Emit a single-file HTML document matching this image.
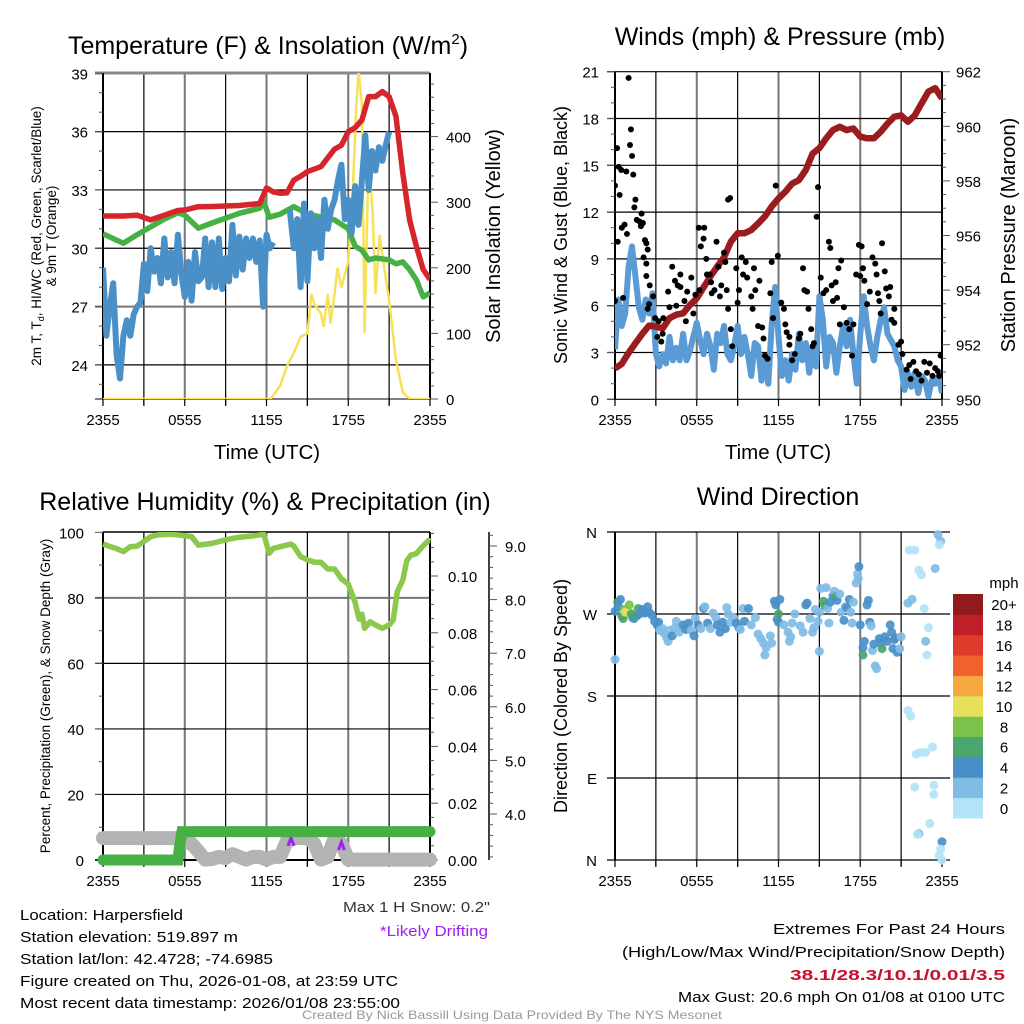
<!DOCTYPE html>
<html><head><meta charset="utf-8"><style>
html,body{margin:0;padding:0;background:#fff;}
svg{display:block;font-family:"Liberation Sans",Arial,sans-serif;}
</style></head><body>
<svg id="fig" width="1024" height="1024" viewBox="0 0 1024 1024" xmlns="http://www.w3.org/2000/svg">
<defs>
<clipPath id="c1"><rect x="103" y="73" width="327" height="326"/></clipPath>
<clipPath id="c2"><rect x="615" y="71" width="327" height="329"/></clipPath>
<clipPath id="c3"><rect x="90" y="532" width="355" height="342"/></clipPath>
<clipPath id="c4"><rect x="605" y="526" width="345" height="342"/></clipPath>
</defs>
<g id="p1"></g>
<g id="p2"></g>
<g id="p3"></g>
<g id="p4"></g>

<text x="268" y="54" font-size="25" text-anchor="middle">Temperature (F) &amp; Insolation (W/m<tspan font-size="15" dy="-10">2</tspan><tspan dy="10">)</tspan></text>
<text x="780" y="45" font-size="25" text-anchor="middle">Winds (mph) &amp; Pressure (mb)</text>
<text x="265" y="510" font-size="25" text-anchor="middle">Relative Humidity (%) &amp; Precipitation (in)</text>
<text x="778" y="505" font-size="25" text-anchor="middle">Wind Direction</text>

<text x="267" y="459" font-size="20.5" text-anchor="middle">Time (UTC)</text>
<text x="778" y="459" font-size="20.5" text-anchor="middle">Time (UTC)</text>
<text transform="translate(41,236) rotate(-90)" font-size="13.5" text-anchor="middle">2m T, T<tspan font-size="9" dy="3">d</tspan><tspan dy="-3">, HI/WC (Red, Green, Scarlet/Blue)</tspan></text>
<text transform="translate(56,236) rotate(-90)" font-size="13.5" text-anchor="middle">&amp; 9m T (Orange)</text>
<text transform="translate(500,236) rotate(-90)" font-size="20" text-anchor="middle">Solar Insolation (Yellow)</text>
<text transform="translate(567,235) rotate(-90)" font-size="18" text-anchor="middle">Sonic Wind &amp; Gust (Blue, Black)</text>
<text transform="translate(1015,235) rotate(-90)" font-size="20" text-anchor="middle">Station Pressure (Maroon)</text>
<text transform="translate(50,696) rotate(-90)" font-size="13.5" text-anchor="middle">Percent, Precipitation (Green), &amp; Snow Depth (Gray)</text>
<text transform="translate(567,696) rotate(-90)" font-size="18" text-anchor="middle">Direction (Colored By Speed)</text>

<g font-size="15">
<text x="20" y="920" textLength="163" lengthAdjust="spacingAndGlyphs">Location: Harpersfield</text>
<text x="20" y="942" textLength="218" lengthAdjust="spacingAndGlyphs">Station elevation: 519.897 m</text>
<text x="20" y="964" textLength="253" lengthAdjust="spacingAndGlyphs">Station lat/lon: 42.4728; -74.6985</text>
<text x="20" y="986" textLength="378" lengthAdjust="spacingAndGlyphs">Figure created on Thu, 2026-01-08, at 23:59 UTC</text>
<text x="20" y="1008" textLength="380" lengthAdjust="spacingAndGlyphs">Most recent data timestamp: 2026/01/08 23:55:00</text>
</g>
<text x="343" y="912" font-size="15" fill="#333" textLength="147" lengthAdjust="spacingAndGlyphs">Max 1 H Snow: 0.2"</text>
<text x="380" y="936" font-size="15" fill="#a020f0" textLength="108" lengthAdjust="spacingAndGlyphs">*Likely Drifting</text>
<text x="773" y="934" font-size="15" textLength="232" lengthAdjust="spacingAndGlyphs">Extremes For Past 24 Hours</text>
<text x="622" y="957" font-size="15" textLength="383" lengthAdjust="spacingAndGlyphs">(High/Low/Max Wind/Precipitation/Snow Depth)</text>
<text x="790" y="980" font-size="15" font-weight="bold" fill="#c8102e" textLength="215" lengthAdjust="spacingAndGlyphs">38.1/28.3/10.1/0.01/3.5</text>
<text x="678" y="1002" font-size="15" textLength="327" lengthAdjust="spacingAndGlyphs">Max Gust: 20.6 mph On 01/08 at 0100 UTC</text>
<text x="302" y="1019" font-size="12" fill="#999" textLength="420" lengthAdjust="spacingAndGlyphs">Created By Nick Bassill Using Data Provided By The NYS Mesonet</text>
</svg>
<script>
// ---------- DATA ----------
const xTickLabels = ["2355","0555","1155","1755","2355"];
const tempRed = [[0,31.66],[1.5,31.66],[2.5,31.7],[3.5,31.46],[4.5,31.7],[5.5,31.94],[6,31.97],[7,32.14],[8,32.15],[10,32.2],[11.5,32.3],[12,33.1],[12.5,32.9],[13,32.83],[13.5,32.85],[14,33.5],[14.5,33.7],[15,33.94],[16,34.2],[17,35.1],[17.5,35.3],[18,36],[18.5,36.2],[19,36.6],[19.5,37.8],[20,37.8],[20.5,38.06],[21,37.8],[21.5,36.8],[22,33.86],[22.5,31.46],[23,30.1],[23.5,28.9],[24,28.4]];
const tempGreen = [[0,30.74],[1.5,30.26],[2.5,30.7],[3.5,31.1],[4.5,31.5],[5.5,31.83],[6,31.7],[7,31.03],[8,31.3],[10,31.8],[11.5,32.06],[11.8,32.4],[12.2,31.6],[13,31.75],[14,32.14],[15,31.77],[16,31.6],[17,31.46],[18,31.0],[18.5,30.1],[19,29.9],[19.5,29.4],[20,29.5],[21,29.4],[21.5,29.2],[22,29.3],[22.5,28.9],[23,28.37],[23.5,27.5],[24,27.7]];
const tempBlue = [[0,29],[0.25,25.5],[0.5,27],[0.75,28.2],[1,24.5],[1.25,23.3],[1.5,25.5],[1.75,26.3],[2,25.5],[2.25,26.6],[2.5,27],[2.75,27.2],[3,29.2],[3.25,27.8],[3.5,30],[3.75,28.8],[4,29.5],[4.25,28.2],[4.5,30.5],[4.75,28.5],[5,29.8],[5.25,28.2],[5.5,30.7],[5.75,28.7],[6,27.5],[6.25,29.3],[6.5,27.3],[6.75,29.8],[7,28.3],[7.25,28.5],[7.5,30.5],[7.75,28],[8,30.3],[8.25,28],[8.5,30.5],[8.75,27.9],[9,29.5],[9.25,28.3],[9.5,31.2],[9.75,28.6],[10,30.6],[10.25,28.9],[10.5,30.5],[10.75,29.5],[11,30.5],[11.25,29.3],[11.5,30.4],[11.75,27],[12,30.7],[12.25,30],[12.5,30.3],null,[13.7,32],[14,30],[14.25,31.5],[14.5,28],[14.75,32.3],[15,28.3],[15.25,31.8],[15.5,30],[15.75,31.5],[16,29.5],[16.25,32.5],[16.5,31],[16.75,32],[17,32.5],[17.25,33.5],[17.5,34.3],[17.75,31.5],[18,32.5],[18.25,30.8],[18.5,33.2],[18.75,31.2],[19,33.5],[19.25,35.8],[19.5,33],[19.75,35],[20,34],[20.25,35.2],[20.5,34.5],[20.75,35.3],[21,36]];
const solar = [[0,0],[12.3,0],[13,20],[13.5,50],[14,70],[14.5,95],[15,100],[15.3,160],[15.5,145],[16,130],[16.2,110],[16.5,160],[16.7,115],[17,160],[17.2,200],[17.5,170],[18,210],[18.3,300],[18.6,450],[18.75,500],[19,450],[19.2,100],[19.3,200],[19.5,370],[19.8,280],[20,160],[20.3,250],[20.5,220],[21,150],[21.5,60],[22,10],[22.5,0],[24,0]];
const tempTicks = [24,27,30,33,36,39];
const solarTicks = [0,100,200,300,400];
const pressure = [[0,951.13],[0.5,951.3],[1,951.7],[1.5,952.05],[2,952.4],[2.5,952.7],[3,952.66],[3.5,952.6],[4,952.97],[4.5,953.1],[5,953.15],[5.5,953.45],[6,953.7],[6.5,954.1],[7,954.5],[7.5,954.86],[8,955.2],[8.5,955.77],[9,956.08],[9.5,956.08],[10,956.2],[10.5,956.44],[11,956.7],[11.5,957.06],[12,957.36],[12.5,957.6],[13,957.9],[13.5,958.03],[14,958.4],[14.5,959.0],[15,959.2],[15.5,959.56],[16,959.86],[16.5,959.98],[17,959.86],[17.5,959.92],[18,959.62],[18.5,959.56],[19,959.56],[19.5,959.8],[20,960.1],[20.5,960.35],[21,960.4],[21.5,960.17],[22,960.4],[22.5,960.84],[23,961.27],[23.5,961.4],[24,961.02]];
const windSpeed = [3.2,6.4,4.7,5.5,8.5,9.8,7.9,5.9,5.1,6.4,5.5,6.8,2.9,2.1,2.9,2.3,4.0,2.5,3.3,2.5,4.2,2.5,3.1,4.0,4.9,3.8,2.9,4.2,3.4,1.9,4.2,3.6,4.7,2.9,2.5,3.4,4.7,2.9,4.0,2.9,1.5,3.6,3.4,1.2,2.5,1.0,4.8,7.2,4.0,1.5,2.5,1.2,2.9,1.9,4.2,2.5,3.6,1.7,3.4,2.1,6.6,5.1,2.1,4.0,3.6,1.7,3.4,4.7,3.4,5.1,2.9,1.0,4.2,6.6,4.7,3.4,2.5,4.0,5.1,5.9,4.2,3.8,3.4,2.5,2.1,0.6,1.7,0.8,1.7,0.4,1.5,1.2,0.2,1.2,1.0,1.5,0.4];
const gusts = [[0,13.7],[0.15,16.1],[0,6.3],[0.27,14.9],[0.46,14.7],[0.34,13.1],[0.2,10.1],[1.0,20.6],[0.83,14.6],[0.88,10.6],[0.5,11],[0.7,11.2],[0.6,6.5],[1.17,17.3],[1.1,16.3],[1.25,15.6],[1.34,14.4],[1.5,12.8],[1.42,12.3],[1.6,11.5],[1.8,11.4],[1.95,11.9],[1.9,11.1],[2.05,11.3],[2.2,10.2],[2.3,10.0],[2.1,9.1],[2.4,9.6],[2.3,8.7],[2.3,7.9],[2.55,7.3],[2.5,6.1],[2.4,5.8],[2.8,6.6],[2.95,5.2],[3.2,5.0],[3.1,4.0],[3.4,3.7],[3.55,5.2],[3.5,4.2],[3.9,6.9],[4.2,8.5],[4.0,5.9],[4.4,7.6],[4.6,7.3],[4.8,7.2],[4.5,6.0],[4.8,8.0],[5.1,6.3],[5.2,5.0],[5.3,6.9],[5.6,7.8],[5.75,5.5],[5.9,6.7],[6.2,7.0],[6.15,11.0],[6.3,9.8],[6.55,11.0],[6.5,10.3],[6.7,9.0],[6.75,8.0],[6.95,8.0],[7.05,7.5],[7.1,6.8],[7.3,7.0],[7.45,10.1],[7.6,8.5],[7.8,7.3],[7.7,6.6],[8.0,9.4],[8.1,8.8],[8.2,7.0],[8.3,12.8],[8.45,12.9],[8.5,4.5],[8.3,5.8],[8.6,3.4],[8.9,8.4],[9.1,7.0],[9.0,6.2],[9.3,9.1],[9.4,8.0],[9.6,8.8],[9.7,7.8],[10.0,6.6],[10.1,5.8],[10.2,8.4],[10.3,7.0],[10.5,4.7],[10.6,7.6],[10.8,4.6],[10.9,3.9],[11.0,2.8],[11.2,2.6],[11.4,6.8],[11.5,8.8],[11.6,5.2],[11.8,13.7],[11.95,9.2],[12.2,6.2],[12.4,5.8],[12.5,4.8],[12.6,4.3],[12.8,4.0],[12.8,3.5],[13.0,2.5],[13.2,2.9],[13.5,3.9],[13.6,4.2],[13.8,8.4],[13.9,7.0],[14.1,6.9],[14.2,5.8],[14.4,4.5],[14.6,3.6],[14.5,3.4],[14.8,11.7],[14.9,13.6],[15.1,7.8],[15.3,6.8],[15.5,7.0],[15.7,10.1],[15.8,9.7],[15.9,7.3],[16.0,6.3],[16.2,7.5],[16.3,6.5],[16.4,8.4],[16.6,8.9],[16.8,5.9],[16.5,4.8],[17.0,4.9],[17.2,4.5],[17.4,2.8],[17.5,4.8],[17.7,8.0],[17.9,9.9],[18.1,9.8],[18.0,7.9],[18.2,8.4],[18.3,7.6],[18.5,6.1],[18.7,6.9],[18.9,9.1],[19.1,8.7],[19.2,8.0],[19.3,6.8],[19.4,6.3],[19.5,5.5],[19.6,10.0],[19.8,8.2],[19.9,7.1],[20.1,6.6],[20.2,7.2],[20.3,5.1],[20.5,5.8],[20.5,4.9],[20.8,3.5],[21.0,3.7],[21.1,2.9],[21.4,1.9],[21.6,2.2],[21.7,1.3],[21.9,2.4],[22.1,1.8],[22.3,1.6],[22.5,1.2],[22.7,2.4],[22.9,1.7],[23.1,2.3],[23.3,1.5],[23.5,2.0],[23.7,1.8],[23.9,2.8],[23.8,1.5]];
const windTicks = [0,3,6,9,12,15,18,21];
const pressureTicks = [950,952,954,956,958,960,962];
const rh = [[0,96.4],[1,95],[1.5,94.1],[2,95.6],[2.5,95.8],[3,97.2],[3.5,98.7],[4,99.2],[5,99.4],[6,99],[6.5,98.7],[7,96.1],[8,96.6],[9,97.7],[10,98.5],[11,98.9],[11.8,99.4],[12.2,93.6],[12.5,95.1],[13,95.6],[13.8,96.4],[14,95.8],[14.5,92.6],[15,91.6],[15.5,90.9],[16,90.8],[16.5,88.8],[17,88.8],[17.5,85.8],[18,84.2],[18.5,78.6],[18.8,73.5],[19,75],[19.2,70.7],[19.6,72.7],[20,71.7],[20.5,70.7],[21,71.7],[21.3,73.2],[21.6,81.9],[22,85.4],[22.3,91.4],[22.6,93],[23,93.5],[23.5,95.9],[23.9,97.5],[24,97.2]];
const precip = [[0,0],[5.5,0],[5.6,0.004],[5.8,0.01],[24,0.01]];
const snow = [[0,3.55],[5.5,3.55],[6,3.47],[6.5,3.45],[7,3.3],[7.5,3.15],[8,3.16],[8.5,3.2],[9,3.18],[9.5,3.25],[10,3.2],[10.5,3.15],[11,3.2],[11.5,3.2],[12,3.15],[12.5,3.2],[13,3.2],[13.5,3.5],[14,3.55],[15,3.55],[15.5,3.45],[16,3.15],[16.5,3.2],[17,3.55],[17.5,3.45],[18,3.15],[24,3.15]];
const drift = [[13.8,3.5],[17.5,3.42]];
const rhTicks = [0,20,40,60,80,100];
const precipTicks = [0,0.02,0.04,0.06,0.08,0.10];
const precipLabels = ["0.00","0.02","0.04","0.06","0.08","0.10"];
const snowTicks = [4,5,6,7,8,9];
const dirPts = [[0,273,5],[0,220,3],[0.2,283,7],[0.25,278,5],[0.4,286,4],[0.5,268,6],[0.6,265,7],[0.7,275,9],[0.75,272,10],[1.0,273,11],[1.05,280,9],[1.2,270,6],[1.3,266,7],[1.4,265,4],[1.6,268,6],[1.7,276,7],[1.8,270,4],[2.0,275,5],[2.2,271,4],[2.4,278,4],[2.5,272,4],[2.7,269,4],[2.9,262,4],[3.1,258,4],[3.2,261,4],[3.3,252,3],[3.5,254,3],[3.6,249,3],[3.8,244,3],[3.9,240,3],[4.0,252,3],[4.2,246,4],[4.4,255,3],[4.5,262,3],[4.7,250,3],[4.8,256,3],[5.0,258,4],[5.2,253,4],[5.4,260,4],[5.6,252,3],[5.8,246,4],[5.9,265,3],[6.1,258,4],[6.3,254,3],[6.5,276,4],[6.6,278,3],[6.8,260,4],[7.0,254,3],[7.2,271,3],[7.4,266,3],[7.5,258,4],[7.7,250,4],[7.9,261,4],[8.1,254,4],[8.2,277,3],[8.3,270,3],[8.5,261,3],[8.7,266,3],[8.9,260,4],[9.1,255,4],[9.2,253,3],[9.4,276,3],[9.5,262,4],[9.8,276,4],[10.0,258,3],[10.3,266,3],[10.5,248,3],[10.7,243,3],[10.9,238,3],[11.0,225,3],[11.1,233,3],[11.4,246,2],[11.5,238,3],[11.7,284,4],[11.8,280,4],[11.9,264,5],[12.0,261,4],[12.0,270,6],[12.1,286,4],[12.4,258,3],[12.7,250,3],[12.8,240,3],[12.9,245,3],[13.0,260,3],[13.2,270,3],[13.6,257,3],[13.8,250,3],[14.0,280,4],[14.1,282,4],[14.3,265,3],[14.5,250,3],[14.6,255,3],[14.7,275,3],[14.9,262,3],[15.0,272,3],[15.0,229,3],[15.1,298,3],[15.3,284,6],[15.4,279,6],[15.5,299,3],[15.6,276,2],[15.7,260,3],[15.8,283,4],[16.0,290,4],[16.1,295,3],[16.2,289,6],[16.3,285,4],[16.5,292,3],[16.6,272,3],[16.8,263,4],[16.9,278,3],[17.0,277,4],[17.2,286,4],[17.3,272,3],[17.4,260,3],[17.5,283,3],[17.7,304,3],[17.8,314,3],[17.9,322,4],[17.85,309,3],[18.0,258,4],[18.2,233,4],[18.2,225,6],[18.3,240,4],[18.5,280,4],[18.6,285,4],[18.7,261,4],[18.8,257,3],[18.9,230,3],[19.0,237,4],[19.1,213,3],[19.2,210,3],[19.4,243,4],[19.5,238,4],[19.6,232,6],[19.8,245,4],[20.0,240,4],[20.2,258,4],[20.3,250,4],[20.4,232,4],[20.5,242,4],[20.6,244,4],[20.7,228,4],[20.9,232,3],[21.0,245,3],[21.5,164,1],[21.7,158,1],[21.5,282,3],[21.8,286,3],[21.6,340,1],[22.0,340,1],[22.3,318,1],[22.5,313,1],[22.7,276,1],[22.8,240,3],[23.0,255,1],[22.9,225,1],[22.8,118,1],[23.3,124,1],[22.1,116,1],[22.4,118,1],[22.0,80,1],[23.4,72,1],[23.4,82,1],[23.1,40,1],[22.3,29,3],[22.2,28,1],[23.5,320,3],[23.7,357,3],[23.9,350,2],[23.8,346,1],[24.0,20,4],[23.9,12,1],[23.8,5,1],[24.0,0,1]];
const dirLabels = ["N","E","S","W","N"];
const dirTicks = [0,90,180,270,360];
const cbarLabels = ["0","2","4","6","8","10","12","14","16","18","20+"];
const cbarColors = ["#b3e3f7","#80bce6","#4a90c8","#4aa56e","#7bc24b","#e6e05a","#f5a742","#ef622e","#df3a2b","#c01f28","#911a1c"];

// ---------- HELPERS ----------
const NS="http://www.w3.org/2000/svg";
function mk(parent,tag,attrs){const e=document.createElementNS(NS,tag);for(const k in attrs)e.setAttribute(k,attrs[k]);parent.appendChild(e);return e;}
function line(p,x1,y1,x2,y2,stroke,w){return mk(p,"line",{x1,y1,x2,y2,stroke,"stroke-width":w});}
function txt(p,x,y,s,size,anchor){const t=mk(p,"text",{x,y,"font-size":size,"text-anchor":anchor||"middle"});t.textContent=s;return t;}
function pathFrom(pts,fx,fy){let d="",m=true;for(const p of pts){if(!p){m=true;continue;}d+=(m?"M":"L")+fx(p[0]).toFixed(1)+","+fy(p[1]).toFixed(1);m=false;}return d;}

function frame(g,x0,x1,y0,y1,hgrid){
  for(let i=1;i<8;i++){const x=x0+(x1-x0)*i/8;const v=line(g,x,y0,x,y1+(i%2?6:0),i%2?"#000":"#777",i%2?1.2:2);
    
    }
  for(const y of hgrid){const h=line(g,x0-8,y.y,x1,y.y,y.c||"#000",y.w||1.2);
    
    }
}
function xAxis(g,x0,x1,y1){
  for(let i=0;i<=8;i++){const x=x0+(x1-x0)*i/8;line(g,x,y1,x,y1+7,"#000",1.2);}
  xTickLabels.forEach((s,i)=>{const t=txt(g,x0+(x1-x0)*i/4,y1+26,s,15);
    
    });
}

// ---------- PANEL 1 ----------
(function(){
  const g=document.getElementById("p1");
  const X=h=>103+h/24*327, YT=t=>73.3+(39-t)*19.44, YS=s=>399-s*0.656;
  const hg=tempTicks.filter(t=>t<39).map(t=>({y:YT(t),c:t==27?"#777":"#000",w:t==27?2:1.2}));
  frame(g,103,430,73,399,hg);
  line(g,95,73,430,73,"#888",3);
  line(g,103,73,103,399,"#000",2); line(g,430,73,430,399,"#000",2);
  line(g,95,399,430,399,"#000",1);
  for(let t=23;t<=39;t++){line(g,103,YT(t),t%3==0?95:99,YT(t),"#555",1);}
  tempTicks.forEach(t=>{const e=txt(g,88,YT(t)+6,String(t),15,"end");
    
    });
  for(let s=0;s<=480;s+=20){line(g,430,YS(s),s%100==0?438:434,YS(s),"#555",1);}
  solarTicks.forEach(s=>{const e=txt(g,446,YS(s)+6,String(s),15,"start");
    
    });
  xAxis(g,103,430,399);
  const c=mk(g,"g",{"clip-path":"url(#c1)"});
  const s1=mk(c,"path",{d:pathFrom(solar,X,YS),fill:"none",stroke:"#f7e15a","stroke-width":2.5});
  
  
  const s2=mk(c,"path",{d:pathFrom(tempGreen,X,YT),fill:"none",stroke:"#46b045","stroke-width":5.5,"stroke-linejoin":"round"});
  
  
  const s3=mk(c,"path",{d:pathFrom(tempBlue,X,YT),fill:"none",stroke:"#4a90c8","stroke-width":6,"stroke-linejoin":"round"});
  
  
  const s4=mk(c,"path",{d:pathFrom(tempRed,X,YT),fill:"none",stroke:"#d7262b","stroke-width":5.5,"stroke-linejoin":"round"});
  
  
})();

// ---------- PANEL 2 ----------
(function(){
  const g=document.getElementById("p2");
  const X=h=>615+h/24*327, YW=w=>399.3-w*15.6, YP=p=>399.3-(p-950)*27.3;
  const hg=windTicks.filter(w=>w>0).map(w=>({y:YW(w)}));
  frame(g,615,942,72,399,hg);
  line(g,615,72,615,399,"#000",2); line(g,942,72,942,399,"#000",2);
  line(g,607,399.3,942,399.3,"#000",1.2);
  for(let w=0;w<=21;w++){line(g,615,YW(w),w%3==0?607:611,YW(w),"#555",1);}
  windTicks.forEach(w=>{const e=txt(g,599,YW(w)+6,String(w),15,"end");
    
    });
  for(let p=950;p<=962;p+=0.5){line(g,942,YP(p),p%2==0?950:946,YP(p),"#555",1);}
  pressureTicks.forEach(p=>{const e=txt(g,956,YP(p)+6,String(p),15,"start");
    
    });
  xAxis(g,615,942,399);
  const c=mk(g,"g",{"clip-path":"url(#c2)"});
  const wpts=windSpeed.map((v,i)=>[i*24/(windSpeed.length-1),v]);
  const wl=mk(c,"path",{d:pathFrom(wpts,X,YW),fill:"none",stroke:"#5b9bd5","stroke-width":6,"stroke-linejoin":"round"});
  
  
  const pl=mk(c,"path",{d:pathFrom(pressure,X,YP),fill:"none",stroke:"#9b1c1f","stroke-width":6.5,"stroke-linejoin":"round"});
  
  
  gusts.forEach(p=>{const d=mk(c,"circle",{cx:X(p[0]),cy:YW(p[1]),r:3,fill:"#000"});
    
    });
})();

// ---------- PANEL 3 ----------
(function(){
  const g=document.getElementById("p3");
  const X=h=>103+h/24*327, YR=r=>860-r*3.277, YPr=p=>860-p*2840, YSn=s=>814-(s-4)*53.6;
  const hg=rhTicks.filter(r=>r>0&&r<100).map(r=>({y:YR(r),c:r==80?"#777":"#000",w:r==80?2:1.2}));
  frame(g,103,430,532,860,hg);
  line(g,103,532,430,532,"#000",1.5);
  line(g,103,532,103,860,"#000",2); line(g,430,532,430,860,"#000",2);
  line(g,95,860,430,860,"#000",2);
  for(let r=0;r<=100;r+=10){line(g,103,YR(r),r%20==0?95:99,YR(r),"#555",1);}
  rhTicks.forEach(r=>{const e=txt(g,84,YR(r)+6,String(r),15,"end");
    
    });
  for(let p=0;p<=0.1151;p+=0.005){const maj=Math.abs(p/0.02-Math.round(p/0.02))<1e-6;line(g,430,YPr(p),maj?438:434,YPr(p),"#555",1);}
  precipTicks.forEach((p,i)=>{const e=txt(g,448,YPr(p)+6,precipLabels[i],15,"start");
    
    });
  line(g,489,532,489,860,"#000",1.5);
  for(let s=3.2;s<=9.3;s+=0.2){const maj=Math.abs(s-Math.round(s))<1e-6;line(g,489,YSn(s),maj?497:493,YSn(s),"#555",1);}
  snowTicks.forEach(s=>{const e=txt(g,505,YSn(s)+6,s.toFixed(1),15,"start");
    
    });
  xAxis(g,103,430,860);
  const c=mk(g,"g",{"clip-path":"url(#c3)"});
  const sl=mk(c,"path",{d:pathFrom(snow,X,YSn),fill:"none",stroke:"#b3b3b3","stroke-width":14,"stroke-linejoin":"round","stroke-linecap":"round"});
  
  
  drift.forEach(d=>{const x=X(d[0]),y=YSn(d[1]);const m=mk(c,"path",{d:`M${x-3},${y+5}L${x},${y-3}L${x+3},${y+5}`,fill:"none",stroke:"#a020f0","stroke-width":3});
    
    });
  const pl=mk(c,"path",{d:pathFrom(precip,X,YPr),fill:"none",stroke:"#46b045","stroke-width":11,"stroke-linecap":"round"});
  
  
  const rl=mk(c,"path",{d:pathFrom(rh,X,YR),fill:"none",stroke:"#8cc84b","stroke-width":5.5,"stroke-linejoin":"round"});
  
  
})();

// ---------- PANEL 4 ----------
(function(){
  const g=document.getElementById("p4");
  const X=h=>615+h/24*327, YD=d=>860-d*328/360;
  const hg=dirTicks.map(d=>({y:YD(d)}));
  frame(g,615,942,532,860,[]);
  hg.forEach(h=>{const l=line(g,607,h.y,950,h.y,"#000",1.2);
    
    });
  line(g,615,532,615,860,"#000",2);
  dirLabels.forEach((s,i)=>{const e=txt(g,597,YD(dirTicks[i])+6,s,15,"end");
    
    });
  xAxis(g,615,942,860);
  const c=mk(g,"g",{"clip-path":"url(#c4)"});
  dirPts.forEach(p=>{const k=Math.min(10,Math.floor(p[2]/2));const d=mk(c,"circle",{cx:X(p[0]),cy:YD(p[1]),r:4.5,fill:cbarColors[k],"fill-opacity":0.92});
    
    });
  const cb=mk(g,"g",{});
  
  
  const h=224/11;
  cbarColors.forEach((col,i)=>{const y=818-(i+1)*h;mk(cb,"rect",{x:953,y:y,width:30,height:h+0.5,fill:col});
    const t=txt(cb,1004,y+h/2+6,cbarLabels[i],15,"middle");
    
    });
  const u=txt(cb,1004,588,"mph",15,"middle");
  
  
})();
</script>
</body></html>
